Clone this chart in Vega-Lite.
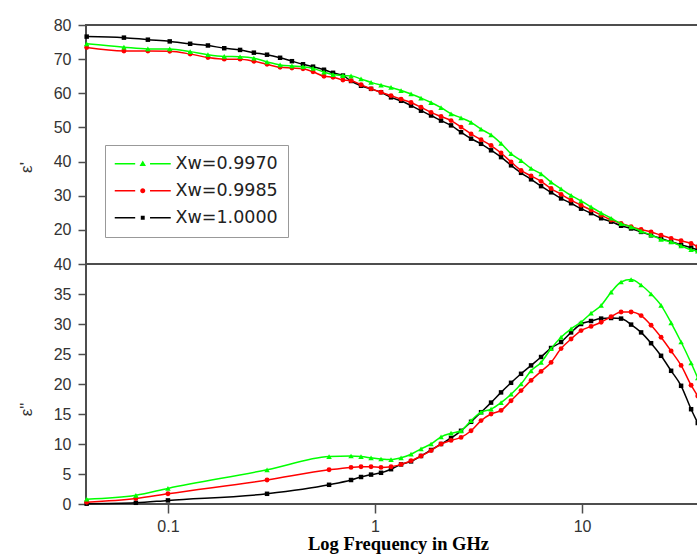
{
  "$schema": "https://vega.github.io/schema/vega-lite/v6.json",
  "background": "white",
  "padding": {"left": 16, "top": 16, "right": 0, "bottom": 4},
  "spacing": 0,
  "bounds": "flush",
  "config": {
    "view": {"stroke": "#4d4d4d", "strokeWidth": 2},
    "axis": {"labelFont": "Liberation Sans", "labelFontSize": 16, "labelColor": "#333333", "tickColor": "#4d4d4d", "tickWidth": 1.5, "tickSize": 8, "domain": false, "grid": false, "titleFont": "Liberation Sans", "titleFontWeight": "normal", "titleColor": "#333333"}
  },
  "datasets": {
    "top": [
      {"f":0.0405,"s":"0.9970","v":74.5},{"f":0.0405,"s":"0.9985","v":73.4},{"f":0.0405,"s":"1.0000","v":76.6},
      {"f":0.0613,"s":"0.9970","v":73.5},{"f":0.0613,"s":"0.9985","v":72.4},{"f":0.0613,"s":"1.0000","v":76.3},
      {"f":0.080,"s":"0.9970","v":73.0},{"f":0.080,"s":"0.9985","v":72.4},{"f":0.080,"s":"1.0000","v":75.7},
      {"f":0.102,"s":"0.9970","v":73.0},{"f":0.102,"s":"0.9985","v":72.3},{"f":0.102,"s":"1.0000","v":75.2},
      {"f":0.128,"s":"0.9970","v":72.2},{"f":0.128,"s":"0.9985","v":71.5},{"f":0.128,"s":"1.0000","v":74.5},
      {"f":0.156,"s":"0.9970","v":71.3},{"f":0.156,"s":"0.9985","v":70.5},{"f":0.156,"s":"1.0000","v":74.0},
      {"f":0.187,"s":"0.9970","v":70.8},{"f":0.187,"s":"0.9985","v":70.0},{"f":0.187,"s":"1.0000","v":73.2},
      {"f":0.223,"s":"0.9970","v":70.7},{"f":0.223,"s":"0.9985","v":70.0},{"f":0.223,"s":"1.0000","v":72.7},
      {"f":0.260,"s":"0.9970","v":70.3},{"f":0.260,"s":"0.9985","v":69.4},{"f":0.260,"s":"1.0000","v":71.9},
      {"f":0.301,"s":"0.9970","v":69.2},{"f":0.301,"s":"0.9985","v":68.5},{"f":0.301,"s":"1.0000","v":71.3},
      {"f":0.348,"s":"0.9970","v":68.3},{"f":0.348,"s":"0.9985","v":67.6},{"f":0.348,"s":"1.0000","v":70.4},
      {"f":0.397,"s":"0.9970","v":68.0},{"f":0.397,"s":"0.9985","v":67.4},{"f":0.397,"s":"1.0000","v":69.4},
      {"f":0.449,"s":"0.9970","v":67.8},{"f":0.449,"s":"0.9985","v":67.2},{"f":0.449,"s":"1.0000","v":68.5},
      {"f":0.502,"s":"0.9970","v":67.3},{"f":0.502,"s":"0.9985","v":66.3},{"f":0.502,"s":"1.0000","v":67.8},
      {"f":0.567,"s":"0.9970","v":66.2},{"f":0.567,"s":"0.9985","v":65.0},{"f":0.567,"s":"1.0000","v":66.9},
      {"f":0.627,"s":"0.9970","v":65.5},{"f":0.627,"s":"0.9985","v":64.7},{"f":0.627,"s":"1.0000","v":66.0},
      {"f":0.700,"s":"0.9970","v":65.2},{"f":0.700,"s":"0.9985","v":63.9},{"f":0.700,"s":"1.0000","v":65.2},
      {"f":0.766,"s":"0.9970","v":65.1},{"f":0.766,"s":"0.9985","v":63.7},{"f":0.766,"s":"1.0000","v":63.6},
      {"f":0.856,"s":"0.9970","v":64.2},{"f":0.856,"s":"0.9985","v":62.5},{"f":0.856,"s":"1.0000","v":62.2},
      {"f":0.957,"s":"0.9970","v":63.2},{"f":0.957,"s":"0.9985","v":61.3},{"f":0.957,"s":"1.0000","v":61.3},
      {"f":1.069,"s":"0.9970","v":62.4},{"f":1.069,"s":"0.9985","v":60.3},{"f":1.069,"s":"1.0000","v":60.3},
      {"f":1.195,"s":"0.9970","v":61.7},{"f":1.195,"s":"0.9985","v":59.3},{"f":1.195,"s":"1.0000","v":58.8},
      {"f":1.336,"s":"0.9970","v":60.8},{"f":1.336,"s":"0.9985","v":58.3},{"f":1.336,"s":"1.0000","v":57.8},
      {"f":1.493,"s":"0.9970","v":59.8},{"f":1.493,"s":"0.9985","v":57.3},{"f":1.493,"s":"1.0000","v":56.4},
      {"f":1.668,"s":"0.9970","v":58.6},{"f":1.668,"s":"0.9985","v":55.9},{"f":1.668,"s":"1.0000","v":54.9},
      {"f":1.865,"s":"0.9970","v":57.3},{"f":1.865,"s":"0.9985","v":54.4},{"f":1.865,"s":"1.0000","v":53.5},
      {"f":2.084,"s":"0.9970","v":55.8},{"f":2.084,"s":"0.9985","v":53.2},{"f":2.084,"s":"1.0000","v":52.0},
      {"f":2.329,"s":"0.9970","v":54.0},{"f":2.329,"s":"0.9985","v":52.0},{"f":2.329,"s":"1.0000","v":50.6},
      {"f":2.603,"s":"0.9970","v":52.8},{"f":2.603,"s":"0.9985","v":50.1},{"f":2.603,"s":"1.0000","v":48.6},
      {"f":2.910,"s":"0.9970","v":51.5},{"f":2.910,"s":"0.9985","v":48.1},{"f":2.910,"s":"1.0000","v":46.7},
      {"f":3.252,"s":"0.9970","v":49.5},{"f":3.252,"s":"0.9985","v":46.4},{"f":3.252,"s":"1.0000","v":45.2},
      {"f":3.635,"s":"0.9970","v":47.8},{"f":3.635,"s":"0.9985","v":44.7},{"f":3.635,"s":"1.0000","v":43.3},
      {"f":4.062,"s":"0.9970","v":45.3},{"f":4.062,"s":"0.9985","v":42.5},{"f":4.062,"s":"1.0000","v":41.3},
      {"f":4.540,"s":"0.9970","v":42.3},{"f":4.540,"s":"0.9985","v":39.9},{"f":4.540,"s":"1.0000","v":38.9},
      {"f":5.074,"s":"0.9970","v":40.3},{"f":5.074,"s":"0.9985","v":37.4},{"f":5.074,"s":"1.0000","v":36.7},
      {"f":5.671,"s":"0.9970","v":38.0},{"f":5.671,"s":"0.9985","v":35.8},{"f":5.671,"s":"1.0000","v":34.8},
      {"f":6.339,"s":"0.9970","v":36.4},{"f":6.339,"s":"0.9985","v":34.2},{"f":6.339,"s":"1.0000","v":32.8},
      {"f":7.084,"s":"0.9970","v":34.0},{"f":7.084,"s":"0.9985","v":32.1},{"f":7.084,"s":"1.0000","v":31.0},
      {"f":7.918,"s":"0.9970","v":32.0},{"f":7.918,"s":"0.9985","v":30.4},{"f":7.918,"s":"1.0000","v":29.2},
      {"f":8.849,"s":"0.9970","v":30.1},{"f":8.849,"s":"0.9985","v":28.7},{"f":8.849,"s":"1.0000","v":27.8},
      {"f":9.889,"s":"0.9970","v":28.5},{"f":9.889,"s":"0.9985","v":27.2},{"f":9.889,"s":"1.0000","v":26.2},
      {"f":11.05,"s":"0.9970","v":26.7},{"f":11.05,"s":"0.9985","v":25.8},{"f":11.05,"s":"1.0000","v":24.9},
      {"f":12.36,"s":"0.9970","v":25.0},{"f":12.36,"s":"0.9985","v":24.3},{"f":12.36,"s":"1.0000","v":23.4},
      {"f":13.81,"s":"0.9970","v":23.4},{"f":13.81,"s":"0.9985","v":22.9},{"f":13.81,"s":"1.0000","v":22.4},
      {"f":15.43,"s":"0.9970","v":21.8},{"f":15.43,"s":"0.9985","v":21.9},{"f":15.43,"s":"1.0000","v":21.2},
      {"f":17.25,"s":"0.9970","v":20.9},{"f":17.25,"s":"0.9985","v":20.9},{"f":17.25,"s":"1.0000","v":20.4},
      {"f":19.28,"s":"0.9970","v":19.6},{"f":19.28,"s":"0.9985","v":20.1},{"f":19.28,"s":"1.0000","v":19.4},
      {"f":21.54,"s":"0.9970","v":18.5},{"f":21.54,"s":"0.9985","v":19.4},{"f":21.54,"s":"1.0000","v":18.4},
      {"f":24.07,"s":"0.9970","v":17.2},{"f":24.07,"s":"0.9985","v":18.4},{"f":24.07,"s":"1.0000","v":17.5},
      {"f":26.92,"s":"0.9970","v":16.5},{"f":26.92,"s":"0.9985","v":17.5},{"f":26.92,"s":"1.0000","v":16.5},
      {"f":30.08,"s":"0.9970","v":15.3},{"f":30.08,"s":"0.9985","v":16.8},{"f":30.08,"s":"1.0000","v":15.6},
      {"f":33.62,"s":"0.9970","v":14.2},{"f":33.62,"s":"0.9985","v":16.0},{"f":33.62,"s":"1.0000","v":14.8},
      {"f":36.2,"s":"0.9970","v":13.8},{"f":36.2,"s":"0.9985","v":15.1},{"f":36.2,"s":"1.0000","v":14.1}
    ],
    "bottom": [
      {"f":0.0405,"s":"0.9970","v":0.8},{"f":0.0405,"s":"0.9985","v":0.3},{"f":0.0405,"s":"1.0000","v":0.05},
      {"f":0.070,"s":"0.9970","v":1.45},{"f":0.070,"s":"0.9985","v":0.9},{"f":0.070,"s":"1.0000","v":0.2},
      {"f":0.100,"s":"0.9970","v":2.6},{"f":0.100,"s":"0.9985","v":1.7},{"f":0.100,"s":"1.0000","v":0.6},
      {"f":0.301,"s":"0.9970","v":5.7},{"f":0.301,"s":"0.9985","v":4.0},{"f":0.301,"s":"1.0000","v":1.7},
      {"f":0.600,"s":"0.9970","v":7.9},{"f":0.600,"s":"0.9985","v":5.7},{"f":0.600,"s":"1.0000","v":3.2},
      {"f":0.766,"s":"0.9970","v":8.0},{"f":0.766,"s":"0.9985","v":6.1},{"f":0.766,"s":"1.0000","v":4.0},
      {"f":0.856,"s":"0.9970","v":7.9},{"f":0.856,"s":"0.9985","v":6.2},{"f":0.856,"s":"1.0000","v":4.5},
      {"f":0.957,"s":"0.9970","v":7.7},{"f":0.957,"s":"0.9985","v":6.2},{"f":0.957,"s":"1.0000","v":4.9},
      {"f":1.069,"s":"0.9970","v":7.5},{"f":1.069,"s":"0.9985","v":6.1},{"f":1.069,"s":"1.0000","v":5.2},
      {"f":1.195,"s":"0.9970","v":7.4},{"f":1.195,"s":"0.9985","v":6.2},{"f":1.195,"s":"1.0000","v":5.8},
      {"f":1.336,"s":"0.9970","v":7.7},{"f":1.336,"s":"0.9985","v":6.6},{"f":1.336,"s":"1.0000","v":6.6},
      {"f":1.493,"s":"0.9970","v":8.3},{"f":1.493,"s":"0.9985","v":7.2},{"f":1.493,"s":"1.0000","v":7.1},
      {"f":1.668,"s":"0.9970","v":9.2},{"f":1.668,"s":"0.9985","v":8.0},{"f":1.668,"s":"1.0000","v":8.0},
      {"f":1.865,"s":"0.9970","v":10.0},{"f":1.865,"s":"0.9985","v":8.9},{"f":1.865,"s":"1.0000","v":9.0},
      {"f":2.084,"s":"0.9970","v":11.2},{"f":2.084,"s":"0.9985","v":10.0},{"f":2.084,"s":"1.0000","v":10.0},
      {"f":2.329,"s":"0.9970","v":11.8},{"f":2.329,"s":"0.9985","v":10.6},{"f":2.329,"s":"1.0000","v":11.0},
      {"f":2.603,"s":"0.9970","v":12.2},{"f":2.603,"s":"0.9985","v":11.1},{"f":2.603,"s":"1.0000","v":12.2},
      {"f":2.910,"s":"0.9970","v":13.9},{"f":2.910,"s":"0.9985","v":12.2},{"f":2.910,"s":"1.0000","v":13.7},
      {"f":3.252,"s":"0.9970","v":15.3},{"f":3.252,"s":"0.9985","v":13.9},{"f":3.252,"s":"1.0000","v":15.3},
      {"f":3.635,"s":"0.9970","v":15.8},{"f":3.635,"s":"0.9985","v":15.0},{"f":3.635,"s":"1.0000","v":16.9},
      {"f":4.062,"s":"0.9970","v":16.9},{"f":4.062,"s":"0.9985","v":15.6},{"f":4.062,"s":"1.0000","v":18.6},
      {"f":4.540,"s":"0.9970","v":18.3},{"f":4.540,"s":"0.9985","v":17.2},{"f":4.540,"s":"1.0000","v":20.2},
      {"f":5.074,"s":"0.9970","v":20.0},{"f":5.074,"s":"0.9985","v":18.9},{"f":5.074,"s":"1.0000","v":21.7},
      {"f":5.671,"s":"0.9970","v":22.2},{"f":5.671,"s":"0.9985","v":20.6},{"f":5.671,"s":"1.0000","v":23.1},
      {"f":6.339,"s":"0.9970","v":23.6},{"f":6.339,"s":"0.9985","v":22.1},{"f":6.339,"s":"1.0000","v":24.5},
      {"f":7.084,"s":"0.9970","v":25.9},{"f":7.084,"s":"0.9985","v":23.6},{"f":7.084,"s":"1.0000","v":26.0},
      {"f":7.918,"s":"0.9970","v":27.8},{"f":7.918,"s":"0.9985","v":25.9},{"f":7.918,"s":"1.0000","v":27.0},
      {"f":8.849,"s":"0.9970","v":29.2},{"f":8.849,"s":"0.9985","v":27.5},{"f":8.849,"s":"1.0000","v":28.6},
      {"f":9.889,"s":"0.9970","v":30.3},{"f":9.889,"s":"0.9985","v":28.9},{"f":9.889,"s":"1.0000","v":30.0},
      {"f":11.05,"s":"0.9970","v":31.8},{"f":11.05,"s":"0.9985","v":29.6},{"f":11.05,"s":"1.0000","v":30.5},
      {"f":12.36,"s":"0.9970","v":33.1},{"f":12.36,"s":"0.9985","v":30.3},{"f":12.36,"s":"1.0000","v":30.9},
      {"f":13.81,"s":"0.9970","v":35.3},{"f":13.81,"s":"0.9985","v":31.2},{"f":13.81,"s":"1.0000","v":31.0},
      {"f":15.43,"s":"0.9970","v":37.0},{"f":15.43,"s":"0.9985","v":32.0},{"f":15.43,"s":"1.0000","v":30.9},
      {"f":17.25,"s":"0.9970","v":37.4},{"f":17.25,"s":"0.9985","v":32.0},{"f":17.25,"s":"1.0000","v":29.9},
      {"f":19.28,"s":"0.9970","v":36.5},{"f":19.28,"s":"0.9985","v":31.4},{"f":19.28,"s":"1.0000","v":28.6},
      {"f":21.54,"s":"0.9970","v":35.0},{"f":21.54,"s":"0.9985","v":29.8},{"f":21.54,"s":"1.0000","v":26.8},
      {"f":24.07,"s":"0.9970","v":33.1},{"f":24.07,"s":"0.9985","v":27.8},{"f":24.07,"s":"1.0000","v":24.7},
      {"f":26.92,"s":"0.9970","v":30.2},{"f":26.92,"s":"0.9985","v":25.5},{"f":26.92,"s":"1.0000","v":22.2},
      {"f":30.08,"s":"0.9970","v":27.0},{"f":30.08,"s":"0.9985","v":23.1},{"f":30.08,"s":"1.0000","v":19.7},
      {"f":33.62,"s":"0.9970","v":23.5},{"f":33.62,"s":"0.9985","v":19.8},{"f":33.62,"s":"1.0000","v":15.8},
      {"f":36.2,"s":"0.9970","v":21.0},{"f":36.2,"s":"0.9985","v":18.0},{"f":36.2,"s":"1.0000","v":13.5}
    ]
  },
  "vconcat": [
    {
      "width": 612,
      "height": 239,
      "data": {"name": "top"},
      "encoding": {
        "x": {"field": "f", "type": "quantitative", "scale": {"type": "log", "domain": [0.0402, 36.3], "nice": false}, "axis": null},
        "y": {"field": "v", "type": "quantitative", "scale": {"domain": [10, 80], "nice": false, "zero": false},
          "axis": {"values": [20, 30, 40, 50, 60, 70, 80], "title": "ε'", "titleX": -60, "titleY": 142, "titleAngle": 270, "titleAlign": "center", "titleBaseline": "middle", "titleFontSize": 17, "labelPadding": 7}}
      },
      "layer": [
        {"transform": [{"filter": "datum.s == '1.0000'"}], "layer": [
          {"mark": {"type": "line", "color": "#000000", "strokeWidth": 1.5, "interpolate": "monotone"}, "encoding": {}},
          {"mark": {"type": "point", "shape": "square", "filled": true, "color": "#000000", "size": 20, "opacity": 1}, "encoding": {}}
        ]},
        {"transform": [{"filter": "datum.s == '0.9985'"}], "layer": [
          {"mark": {"type": "line", "color": "#ff0000", "strokeWidth": 1.5, "interpolate": "monotone"}, "encoding": {}},
          {"mark": {"type": "point", "shape": "circle", "filled": true, "color": "#ff0000", "size": 24, "opacity": 1}, "encoding": {}}
        ]},
        {"transform": [{"filter": "datum.s == '0.9970'"}], "layer": [
          {"mark": {"type": "line", "color": "#00ff00", "strokeWidth": 1.5, "interpolate": "monotone"}, "encoding": {}},
          {"mark": {"type": "point", "shape": "triangle-up", "filled": true, "color": "#00ff00", "size": 30, "opacity": 1}, "encoding": {}}
        ]},
        {
          "mark": {"type": "point", "filled": true, "opacity": 0},
          "encoding": {
            "color": {"field": "s", "type": "nominal", "scale": {"domain": ["0.9970", "0.9985", "1.0000"], "range": ["#00ff00", "#ff0000", "#000000"]},
              "legend": {"title": null, "orient": "none", "legendX": 19, "legendY": 120, "symbolSize": 196, "symbolOffset": 19, "symbolStrokeWidth": 0, "symbolOpacity": 1, "labelFont": "DejaVu Sans", "labelFontSize": 17.5, "labelColor": "#222222", "labelOffset": 24, "labelExpr": "'Xw=' + datum.label", "padding": 10, "rowPadding": 8, "strokeColor": "#999999", "fillColor": "#ffffff", "cornerRadius": 0, "labelLimit": 300}},
            "shape": {"field": "s", "type": "nominal", "scale": {"domain": ["0.9970", "0.9985", "1.0000"], "range": [
              "M-4,-0.12H-1.08V0.12H-4Z M1.04,-0.12H4V0.12H1.04Z M0,-0.48L0.46,0.32H-0.46Z",
              "M-4,-0.12H-1.08V0.12H-4Z M1.04,-0.12H4V0.12H1.04Z M0.36,0A0.36,0.36,0,1,1,-0.36,0A0.36,0.36,0,1,1,0.36,0Z",
              "M-4,-0.12H-1.08V0.12H-4Z M1.04,-0.12H4V0.12H1.04Z M-0.28,-0.28H0.28V0.28H-0.28Z"]},
              "legend": {"title": null, "orient": "none", "legendX": 19, "legendY": 120, "symbolSize": 196, "symbolOffset": 19, "symbolStrokeWidth": 0, "symbolOpacity": 1, "labelFont": "DejaVu Sans", "labelFontSize": 17.5, "labelColor": "#222222", "labelOffset": 24, "labelExpr": "'Xw=' + datum.label", "padding": 10, "rowPadding": 8, "strokeColor": "#999999", "fillColor": "#ffffff", "cornerRadius": 0, "labelLimit": 300}}
          }
        }
      ]
    },
    {
      "width": 612,
      "height": 240,
      "data": {"name": "bottom"},
      "encoding": {
        "x": {"field": "f", "type": "quantitative", "scale": {"type": "log", "domain": [0.0402, 36.3], "nice": false},
          "axis": {"values": [0.1, 1, 10], "format": "~g", "tickSize": 9, "labelPadding": 5, "title": "Log Frequency in GHz", "titleFont": "Liberation Serif", "titleFontWeight": "bold", "titleFontSize": 18.5, "titleColor": "#000000", "titleX": 312, "titleY": 45, "titleAlign": "center", "titleBaseline": "alphabetic"}},
        "y": {"field": "v", "type": "quantitative", "scale": {"domain": [0, 40], "nice": false, "zero": false},
          "axis": {"values": [0, 5, 10, 15, 20, 25, 30, 35, 40], "title": "ε\"", "titleX": -60, "titleY": 145, "titleAngle": 270, "titleAlign": "center", "titleBaseline": "middle", "titleFontSize": 17, "labelPadding": 7}}
      },
      "layer": [
        {"transform": [{"filter": "datum.s == '1.0000'"}], "layer": [
          {"mark": {"type": "line", "color": "#000000", "strokeWidth": 1.5, "interpolate": "monotone"}, "encoding": {}},
          {"mark": {"type": "point", "shape": "square", "filled": true, "color": "#000000", "size": 20, "opacity": 1}, "encoding": {}}
        ]},
        {"transform": [{"filter": "datum.s == '0.9985'"}], "layer": [
          {"mark": {"type": "line", "color": "#ff0000", "strokeWidth": 1.5, "interpolate": "monotone"}, "encoding": {}},
          {"mark": {"type": "point", "shape": "circle", "filled": true, "color": "#ff0000", "size": 24, "opacity": 1}, "encoding": {}}
        ]},
        {"transform": [{"filter": "datum.s == '0.9970'"}], "layer": [
          {"mark": {"type": "line", "color": "#00ff00", "strokeWidth": 1.5, "interpolate": "monotone"}, "encoding": {}},
          {"mark": {"type": "point", "shape": "triangle-up", "filled": true, "color": "#00ff00", "size": 30, "opacity": 1}, "encoding": {}}
        ]}
      ]
    }
  ]
}
